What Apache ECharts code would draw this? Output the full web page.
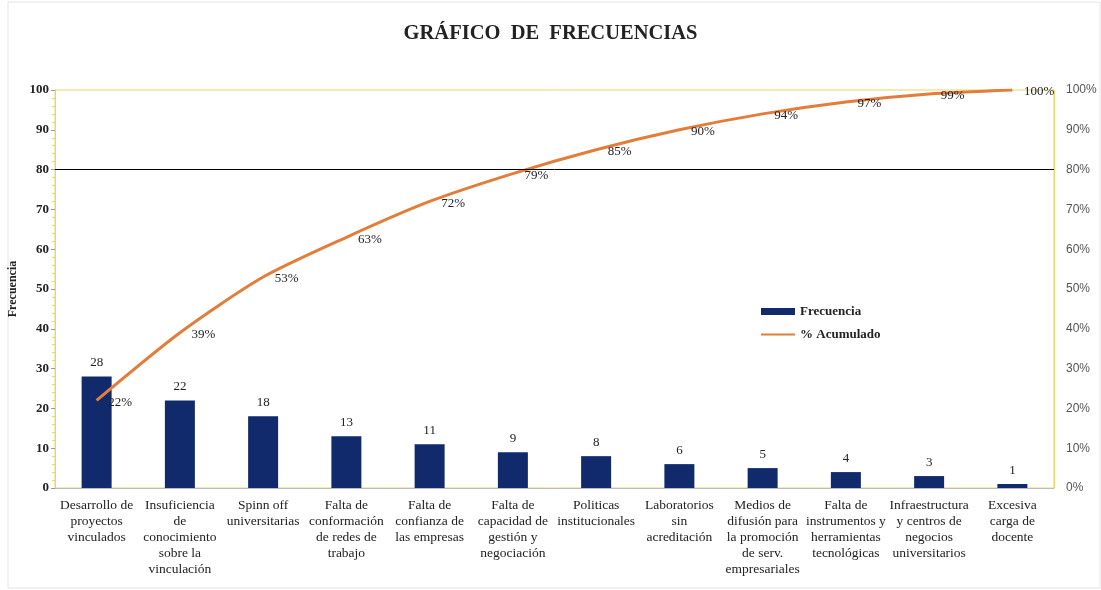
<!DOCTYPE html>
<html>
<head>
<meta charset="utf-8">
<script src="https://cdn.jsdelivr.net/npm/echarts@6/dist/echarts.min.js"></script>
<style>
  html, body { margin: 0; padding: 0; background: #fff; }
  #chart { width: 1101px; height: 590px; }
</style>
</head>
<body>
<div id="chart"></div>
<script>
const categories = [
  "Desarrollo de\nproyectos\nvinculados",
  "Insuficiencia\nde\nconocimiento\nsobre la\nvinculación",
  "Spinn off\nuniversitarias",
  "Falta de\nconformación\nde redes de\ntrabajo",
  "Falta de\nconfianza de\nlas empresas",
  "Falta de\ncapacidad de\ngestión y\nnegociación",
  "Politicas\ninstitucionales",
  "Laboratorios\nsin\nacreditación",
  "Medios de\ndifusión para\nla promoción\nde serv.\nempresariales",
  "Falta de\ninstrumentos y\nherramientas\ntecnológicas",
  "Infraestructura\ny centros de\nnegocios\nuniversitarios",
  "Excesiva\ncarga de\ndocente"
];
const frecuencia = [28, 22, 18, 13, 11, 9, 8, 6, 5, 4, 3, 1];
const acumulado = [22, 39, 53, 63, 72, 79, 85, 90, 94, 97, 99, 100];

const serif = "Liberation Serif";
const yellow = "#E5D866";
const orange = "#E27D3A";

const chart = echarts.init(document.getElementById("chart"));
chart.setOption({
  animation: false,
  title: {
    text: "GRÁFICO  DE  FRECUENCIAS",
    left: "center",
    top: 18,
    textStyle: {
      fontFamily: serif,
      fontWeight: "bold",
      fontSize: 20.5,
      color: "#222"
    }
  },
  legend: {
    orient: "vertical",
    left: 755,
    top: 300,
    itemGap: 10,
    itemWidth: 34,
    itemHeight: 7,
    textStyle: { fontFamily: serif, fontWeight: "bold", fontSize: 13, color: "#222" },
    data: [
      { name: "Frecuencia", icon: "rect" },
      { name: "% Acumulado", itemStyle: { opacity: 0 } }
    ]
  },
  grid: {
    left: 55,
    right: 47,
    top: 90,
    bottom: 102,
    outerBoundsMode: "none",
    show: true,
    borderColor: yellow,
    borderWidth: 1
  },
  xAxis: {
    type: "category",
    data: categories,
    axisLine: { lineStyle: { color: "#bbb" } },
    axisTick: { show: false },
    axisLabel: {
      interval: 0,
      fontFamily: serif,
      fontSize: 13.5,
      color: "#222",
      lineHeight: 16,
      margin: 9
    }
  },
  yAxis: [
    {
      type: "value",
      min: 0,
      max: 100,
      interval: 10,
      name: "Frecuencia",
      nameLocation: "middle",
      nameGap: 33,
      nameTextStyle: { fontFamily: serif, fontWeight: "bold", fontSize: 12, color: "#222" },
      axisLine: { show: true, lineStyle: { color: yellow } },
      axisTick: { show: true, length: 4, lineStyle: { color: "#999" } },
      minorTick: { show: true, splitNumber: 5, length: 3, lineStyle: { color: yellow } },
      splitLine: { show: false },
      axisLabel: { fontFamily: serif, fontWeight: "bold", fontSize: 13, color: "#222", margin: 6 }
    },
    {
      type: "value",
      min: 0,
      max: 100,
      interval: 10,
      position: "right",
      axisLine: { show: true, lineStyle: { color: yellow } },
      axisTick: { show: false },
      splitLine: { show: false },
      axisLabel: {
        formatter: "{value}%",
        fontFamily: "Liberation Sans",
        fontSize: 12,
        color: "#555",
        margin: 12
      }
    }
  ],
  series: [
    {
      name: "Frecuencia",
      type: "bar",
      data: frecuencia,
      barWidth: 30,
      itemStyle: { color: "#102A6C" },
      label: {
        show: true,
        position: "top",
        distance: 7,
        fontFamily: serif,
        fontSize: 13,
        color: "#222"
      },
      markLine: {
        silent: true,
        symbol: "none",
        label: { show: false },
        lineStyle: { color: "#000", type: "solid", width: 1 },
        data: [{ yAxis: 80 }]
      }
    },
    {
      name: "% Acumulado",
      type: "line",
      yAxisIndex: 1,
      data: acumulado,
      smooth: 0.25,
      symbol: "none",
      lineStyle: { color: orange, width: 3 },
      itemStyle: { color: orange }
    },
    {
      name: "etiquetas",
      type: "scatter",
      yAxisIndex: 1,
      data: acumulado,
      symbolSize: 1,
      itemStyle: { color: "transparent", opacity: 1 },
      label: {
        show: true,
        position: "right",
        distance: 11,
        offset: [0, 2],
        formatter: "{c}%",
        fontFamily: serif,
        fontSize: 13,
        color: "#222"
      },
      z: 5
    }
  ],
  graphic: [
    {
      type: "rect",
      shape: { x: 8, y: 2, width: 1092, height: 586 },
      style: { fill: "none", stroke: "#e4e4e4", lineWidth: 1 },
      z: -1
    }
  ]
});
</script>
</body>
</html>
